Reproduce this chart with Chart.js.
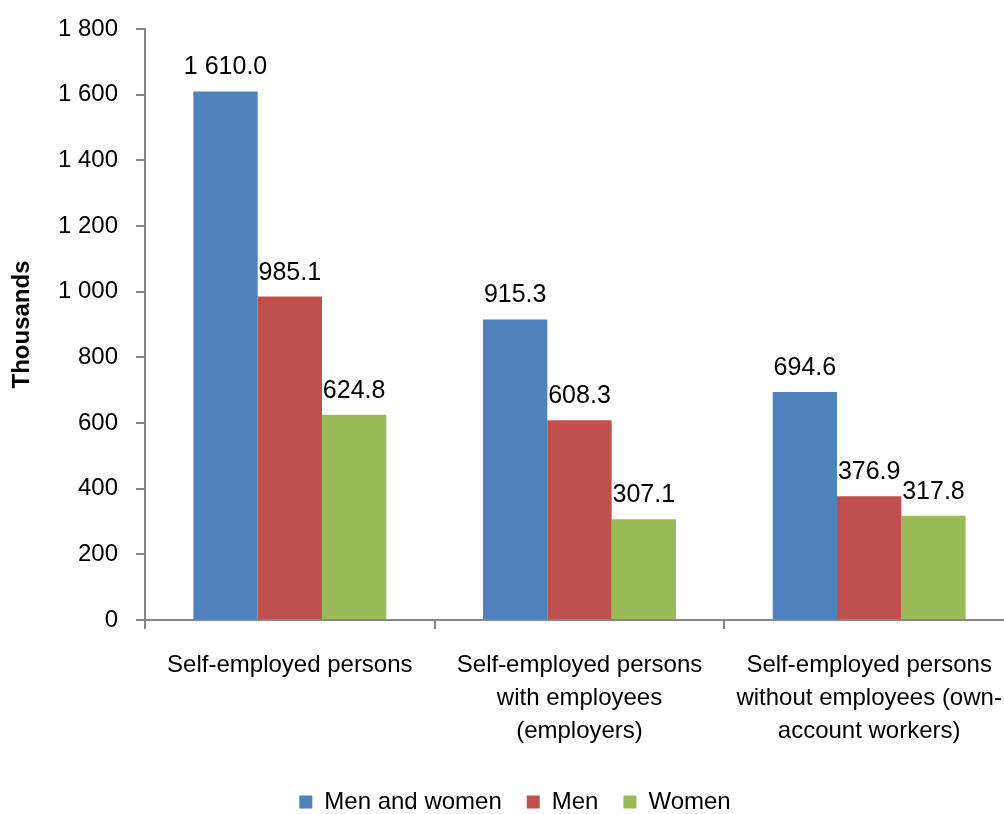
<!DOCTYPE html>
<html>
<head>
<meta charset="utf-8">
<script src="https://cdn.jsdelivr.net/npm/chart.js@4.4.1/dist/chart.umd.min.js"></script>
<style>
  html, body { margin: 0; padding: 0; background: #fff; overflow: hidden; width: 1004px; height: 814px; }
  #wrap { position: relative; width: 1014px; height: 824px; }
</style>
</head>
<body>
<div id="wrap"><canvas id="c" width="1014" height="824"></canvas></div>
<script>
const categories = [
  ["Self-employed persons"],
  ["Self-employed persons", "with employees", "(employers)"],
  ["Self-employed persons", "without employees (own-", "account workers)"]
];
const seriesNames = ["Men and women", "Men", "Women"];
const menAndWomen = [1610.0, 915.3, 694.6];
const men = [985.1, 608.3, 376.9];
const women = [624.8, 307.1, 317.8];
const colors = ["#4F81BD", "#C0504D", "#9BBB59"];
const yTicks = [0, 200, 400, 600, 800, 1000, 1200, 1400, 1600, 1800];

const FONT = "'Liberation Sans', Arial, sans-serif";
const AXIS = "#868686";

function groupSpace(s) {
  const parts = s.split('.');
  parts[0] = parts[0].replace(/\B(?=(\d{3})+(?!\d))/g, ' ');
  return parts.join('.');
}

const dataLabels = {
  id: 'dataLabels',
  afterDatasetsDraw(chart) {
    const ctx = chart.ctx;
    ctx.save();
    ctx.font = "25px " + FONT;
    ctx.fillStyle = "#000";
    ctx.textAlign = "center";
    ctx.textBaseline = "alphabetic";
    chart.data.datasets.forEach((ds, i) => {
      const meta = chart.getDatasetMeta(i);
      meta.data.forEach((bar, j) => {
        ctx.fillText(groupSpace(ds.data[j].toFixed(1)), bar.x, bar.y - 17);
      });
    });
    ctx.restore();
  }
};

const datasets = [menAndWomen, men, women].map((d, i) => ({
  label: seriesNames[i],
  data: d,
  backgroundColor: colors[i],
  borderWidth: 0,
  categoryPercentage: 0.666,
  barPercentage: 1.0
}));

new Chart(document.getElementById('c'), {
  type: 'bar',
  data: { labels: categories, datasets },
  plugins: [dataLabels],
  options: {
    responsive: false,
    animation: false,
    devicePixelRatio: 1,
    layout: { padding: { top: 29, left: 16, right: 0, bottom: 0 } },
    plugins: {
      tooltip: { enabled: false },
      legend: {
        position: 'bottom',
        labels: {
          boxWidth: 13,
          boxHeight: 13,
          padding: 25,
          color: '#000',
          font: { family: FONT, size: 24 }
        }
      }
    },
    scales: {
      x: {
        offset: true,
        grid: { offset: true, drawOnChartArea: false, drawTicks: true, tickLength: 9, color: AXIS, lineWidth: 2 },
        border: { color: AXIS, width: 2 },
        ticks: { color: '#000', padding: 20, font: { family: FONT, size: 24, lineHeight: 1.375 }, maxRotation: 0, autoSkip: false },
        afterFit(scale) { scale.paddingLeft = 0; scale.paddingRight = 0; scale.height = scale.height - 3; }
      },
      y: {
        min: 0,
        max: 1800,
        afterBuildTicks(scale) { scale.ticks = yTicks.map(v => ({ value: v })); },
        grid: { drawOnChartArea: false, drawTicks: true, tickLength: 9, color: AXIS, lineWidth: 2 },
        border: { color: AXIS, width: 2 },
        ticks: { color: '#000', padding: 18, font: { family: FONT, size: 24 }, callback: v => groupSpace(String(v)) },
        title: { display: true, text: 'Thousands', color: '#000', font: { family: FONT, size: 24, weight: 'bold' }, padding: { top: -8, bottom: 0 } },
        afterFit(scale) { scale.width = 129; scale.paddingTop = 0; scale.paddingBottom = 0; }
      }
    }
  }
});
</script>
</body>
</html>
